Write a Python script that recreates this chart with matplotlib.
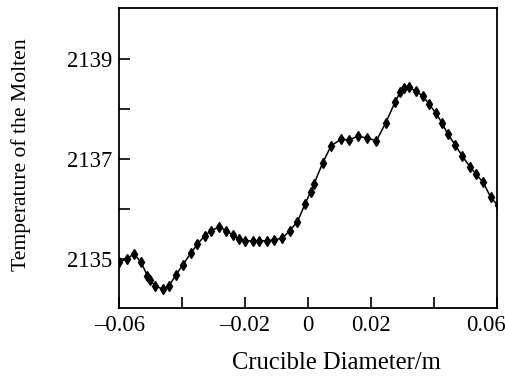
import numpy as np
import matplotlib
matplotlib.use("Agg")
import matplotlib.pyplot as plt
from matplotlib.transforms import ScaledTranslation

plt.rcParams['font.family'] = ['Liberation Serif', 'DejaVu Serif']

# data
diameter = [-0.0600, -0.0577, -0.0554, -0.0531, -0.0511, -0.0503, -0.0487, -0.0462,
            -0.0442, -0.0420, -0.0398, -0.0372, -0.0352, -0.0329, -0.0309, -0.0282,
            -0.0260, -0.0240, -0.0219, -0.0199, -0.0176, -0.0155, -0.0130, -0.0109,
            -0.0082, -0.0059, -0.0034, -0.0010, 0.0008, 0.0019, 0.0046, 0.0073,
            0.0104, 0.0130, 0.0158, 0.0188, 0.0217, 0.0247, 0.0277, 0.0293,
            0.0306, 0.0322, 0.0342, 0.0365, 0.0386, 0.0407, 0.0426, 0.0444,
            0.0468, 0.0490, 0.0515, 0.0535, 0.0557, 0.0581, 0.0603]
temperature = [2134.95, 2135.00, 2135.11, 2134.94, 2134.67, 2134.59, 2134.47, 2134.40,
               2134.47, 2134.69, 2134.89, 2135.13, 2135.30, 2135.47, 2135.57, 2135.65,
               2135.57, 2135.49, 2135.40, 2135.37, 2135.37, 2135.37, 2135.37, 2135.39,
               2135.42, 2135.57, 2135.75, 2136.10, 2136.35, 2136.51, 2136.92, 2137.27,
               2137.40, 2137.39, 2137.46, 2137.43, 2137.37, 2137.73, 2138.15, 2138.35,
               2138.42, 2138.44, 2138.37, 2138.27, 2138.10, 2137.92, 2137.73, 2137.51,
               2137.29, 2137.07, 2136.85, 2136.70, 2136.54, 2136.24, 2136.08]

xticks = [-0.06, -0.04, -0.02, 0, 0.02, 0.04, 0.06]
xticklabels = ['\u20130.06', '', '\u20130.02', '0', '0.02', '', '0.06']
yticks = [2135, 2136, 2137, 2138, 2139]
yticklabels = ['2135', '', '2137', '', '2139']

fig = plt.figure(figsize=(5.06, 3.76), dpi=100)
ax = fig.add_axes([0.236, 0.1816, 0.7456, 0.797])

ax.plot(diameter, temperature, color='black', lw=1.1, marker='d',
        markersize=5.5, markerfacecolor='black', markeredgecolor='black')

ax.set_xlim(-0.06, 0.06)
ax.set_ylim(2134.03, 2140.03)
ax.set_xticks(xticks)
ax.set_xticklabels(xticklabels)
ax.set_yticks(yticks)
ax.set_yticklabels(yticklabels)
ax.tick_params(direction='in', length=8, width=1.2, labelsize=16.3, pad=5)
for s in ax.spines.values():
    s.set_linewidth(1.3)

# last x label sits a bit left of its tick in the reference
last = ax.get_xticklabels()[-1]
last.set_transform(last.get_transform() + ScaledTranslation(-0.11, 0, fig.dpi_scale_trans))

ax.set_xlabel('Crucible Diameter/m', fontsize=17.7, labelpad=12, x=0.576)
ax.set_ylabel('Temperature of the Molten', fontsize=15.6, labelpad=26, y=0.51)

fig.savefig('out.png', dpi=100)
